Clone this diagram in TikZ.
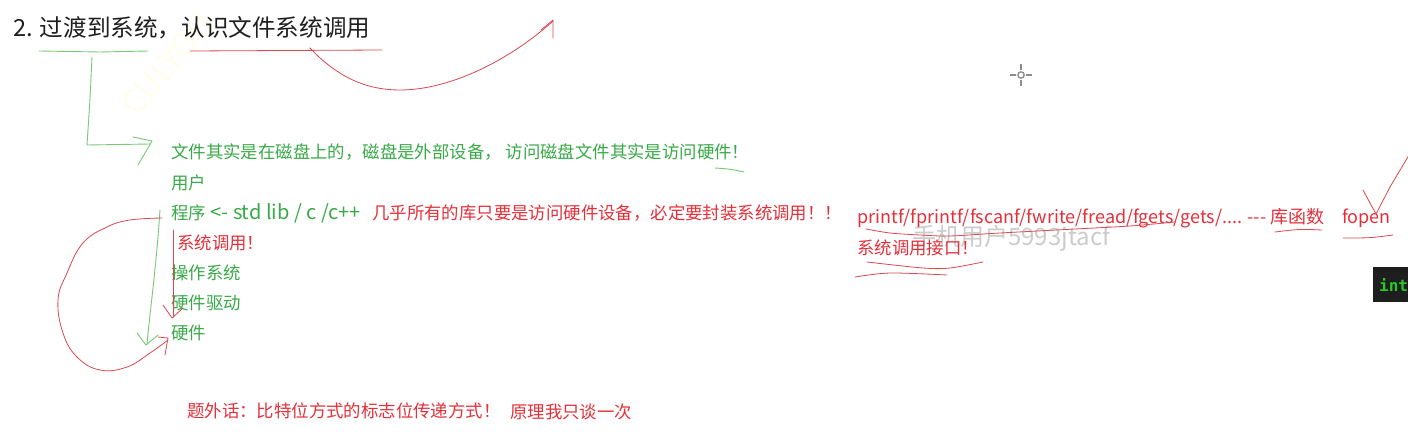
\documentclass[tikz,border=0pt]{standalone}
\usepackage{fontspec}
\newfontfamily\cjk{Noto Sans CJK SC}
\newfontfamily\mono{DejaVu Sans Mono}
\definecolor{notegreen}{RGB}{56,170,72}
\definecolor{notered}{RGB}{228,48,58}
\definecolor{inkgreen}{RGB}{120,200,120}
\definecolor{inkred}{RGB}{218,72,82}
\definecolor{termbg}{RGB}{30,30,30}
\definecolor{termgreen}{RGB}{40,200,40}
\tikzset{
  note/.style={anchor=west, inner sep=0pt, font=\cjk\fontsize{17.4}{20}\selectfont},
  gnote/.style={note, text=notegreen},
  rnote/.style={note, text=notered},
  ginkline/.style={inkgreen, line width=0.9pt, line cap=round, line join=round},
  rinkline/.style={inkred, line width=0.8pt, line cap=round, line join=round},
}
\begin{document}
\begin{tikzpicture}[x=1pt, y=-1pt]
    \useasboundingbox (0,0) rectangle (1408,447);
    \fill[white] (0,0) rectangle (1408,447);

    % ===== watermarks =====
    \node[rotate=48.6, text=yellow!7, font=\cjk\fontsize{32}{32}\selectfont] (wmark) at (168,64) {CULYOU};
    \node[anchor=west, inner sep=0pt, text=black!20, font=\cjk\fontsize{24}{24}\selectfont] (wuser) at (912,238) {手机用户5993jtacf};

    % ===== title =====
    \node[anchor=west, inner sep=0pt, text=black!88, font=\cjk\fontsize{23.6}{28}\selectfont] (title) at (13,28) {2. 过渡到系统，认识文件系统调用};
    \draw[ginkline] (39,51) -- (100,52) -- (148,51);
    \draw[rinkline] (190,51) -- (382,50);
    \draw[rinkline] (310,48) .. controls (340,80) and (370,90) .. (400,90) .. controls (450,90) and (510,60) .. (553,21);
    \draw[rinkline] (541,30) -- (553,20) -- (553,38);

    % ===== layers =====
    \def\xS{171}
    \node[gnote] (disk) at (\xS,152) {文件其实是在磁盘上的，磁盘是外部设备， 访问磁盘文件其实是访问硬件！};
    \node[gnote] (user) at (\xS,183) {用户};
    \node[gnote] (prog) at (\xS,213) {程序{\fontsize{20}{20}\selectfont\ <- std lib / c /c++}};
    \node[rnote] (libs) at (372,213) {几乎所有的库只要是访问硬件设备，必定要封装系统调用！！};
    \node[rnote] (sysc) at (\xS+6,243) {系统调用！};
    \node[gnote] (os) at (\xS,273) {操作系统};
    \node[gnote] (drv) at (\xS,303) {硬件驱动};
    \node[gnote] (hw) at (\xS,333) {硬件};

    \draw[ginkline] (92,57) .. controls (90,100) .. (87,145) -- (150,144);
    \draw[ginkline] (133,137) -- (152,141) -- (138,165);
    \draw[ginkline] (715,168) .. controls (730,169) .. (744,172);

    \draw[ginkline] (160,210) .. controls (156,270) and (150,310) .. (147,344);
    \draw[ginkline] (137,333) -- (146,345) -- (158,335);
    \draw[rinkline] plot[smooth, tension=0.7] coordinates {(162,218) (130,220) (107,227) (83,243) (67,273) (58,300) (63,333) (77,357) (100,370) (127,367) (150,353) (168,340)};
    \draw[rinkline] (158,337) -- (168,338) -- (165,355);
    \draw[rinkline] (173,230) -- (173,317);
    \draw[rinkline] (163,305) -- (172,318) -- (183,308);

    % ===== library functions =====
    \node[rnote, font=\cjk\fontsize{18}{20}\selectfont] (cfun) at (857,218) {printf/fprintf/fscanf/fwrite/fread/fgets/gets/.... --- 库函数};
    \node[rnote, font=\cjk\fontsize{18}{20}\selectfont] (fopen) at (1342,218) {fopen};
    \node[rnote] (sysapi) at (857,248) {系统调用接口！};

    \draw[rinkline] plot[smooth] coordinates {(866,229) (890,233) (920,235) (950,236) (1000,233) (1075,229) (1130,226) (1175,222)};
    \draw[rinkline] (1275,232) .. controls (1300,229) .. (1322,230);
    \draw[rinkline] (1343,238) .. controls (1370,238) .. (1393,235);
    \draw[rinkline] (1363,190) -- (1376,214) -- (1390,187) -- (1412,150);
    \draw[rinkline] plot[smooth] coordinates {(867,262) (923,268) (950,268) (983,262)};
    \draw[rinkline] plot[smooth] coordinates {(855,277) (890,273) (947,275)};

    % ===== aside =====
    \node[rnote] (aside) at (187,411) {题外话：比特位方式的标志位传递方式！};
    \node[rnote] (once) at (510,412) {原理我只谈一次};

    % ===== cursor and terminal =====
    \coordinate (cross) at (1021,75);
    \draw[black!45, line width=1.3pt] (cross) circle[radius=3.2];
    \foreach \a in {0,90,180,270}
        \draw[black!45, line width=1.3pt] (cross) ++(\a:5) -- ++(\a:6);

    \begin{scope}
        \clip (0,0) rectangle (1408,447);
        \fill[termbg] (1373,267) rectangle (1420,302);
        \node[anchor=west, inner sep=0pt, text=termgreen, font=\mono\bfseries\fontsize{16}{16}\selectfont] (term) at (1379,285) {int};
    \end{scope}
\end{tikzpicture}
\end{document}
